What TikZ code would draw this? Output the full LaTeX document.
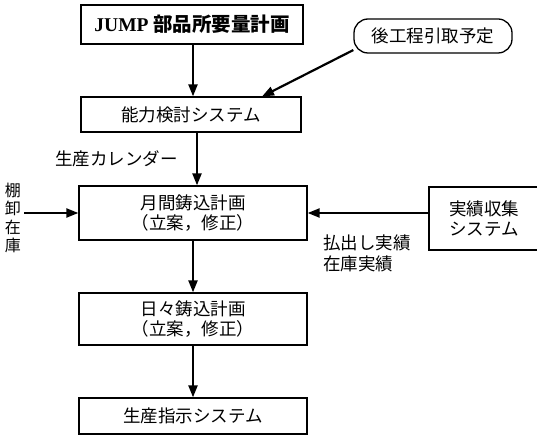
\documentclass[tikz,border=0pt]{standalone}
\usepackage{fontspec}
\setmainfont{Liberation Serif}
\newfontfamily\jp{Noto Sans CJK JP}
\usetikzlibrary{arrows.meta,positioning}
\begin{document}
\begin{tikzpicture}[x=1pt,y=-1pt,
  box/.style={draw,line width=1.3pt,inner sep=0pt,font=\jp\fontsize{17.5}{20.5}\selectfont,align=center},
  lbl/.style={inner sep=0pt,font=\jp\fontsize{17.5}{20.5}\selectfont,align=left},
  arr/.style={line width=2.2pt,-{Triangle[length=12pt,width=9pt]}}]
\useasboundingbox (0,0) rectangle (537,435);
\node[box,minimum width=222pt,minimum height=39pt,font=\jp\bfseries\fontsize{19.5}{22}\selectfont] (jump) at (192,24.5) {{\rmfamily\bfseries JUMP} 部品所要量計画};
\node[box,rounded corners=14pt,minimum width=158pt,minimum height=34pt] (ato) at (433,36) {後工程引取予定};
\node[box,minimum width=220pt,minimum height=35pt] (nou) at (191,114.5) {能力検討システム};
\node[lbl,anchor=west] (cal) at (55,159) {生産カレンダー};
\node[box,minimum width=228pt,minimum height=54pt] (getsu) at (193,213) {月間鋳込計画\\（立案，修正）};
\node[box,minimum width=110pt,minimum height=63pt] (jis) at (484,218.5) {実績収集\\システム};
\node[lbl,anchor=north west] (hara) at (323,235) {払出し実績\\在庫実績};
\node[lbl,align=center,font=\jp\fontsize{16}{18.5}\selectfont] (tana) at (13,218) {棚\\卸\\在\\庫};
\coordinate (tanaE) at (24,213);
\node[box,minimum width=228pt,minimum height=52pt] (nichi) at (193,319) {日々鋳込計画\\（立案，修正）};
\node[box,minimum width=228pt,minimum height=36pt] (sei) at (193,416) {生産指示システム};
\draw[arr] (jump.south -| 193,0) -- (nou.north -| 193,0);
\draw[arr] (ato.190) -- (262,96.5);
\draw[arr] (nou.south -| 197,0) -- (getsu.north -| 197,0);
\draw[arr] (tanaE) -- (getsu.west |- tanaE);
\draw[arr] (jis.west |- 0,213) -- (getsu.east |- 0,213);
\draw[arr] (getsu.south -| 193,0) -- (nichi.north -| 193,0);
\draw[arr] (nichi.south -| 193,0) -- (sei.north -| 193,0);
\end{tikzpicture}
\end{document}
